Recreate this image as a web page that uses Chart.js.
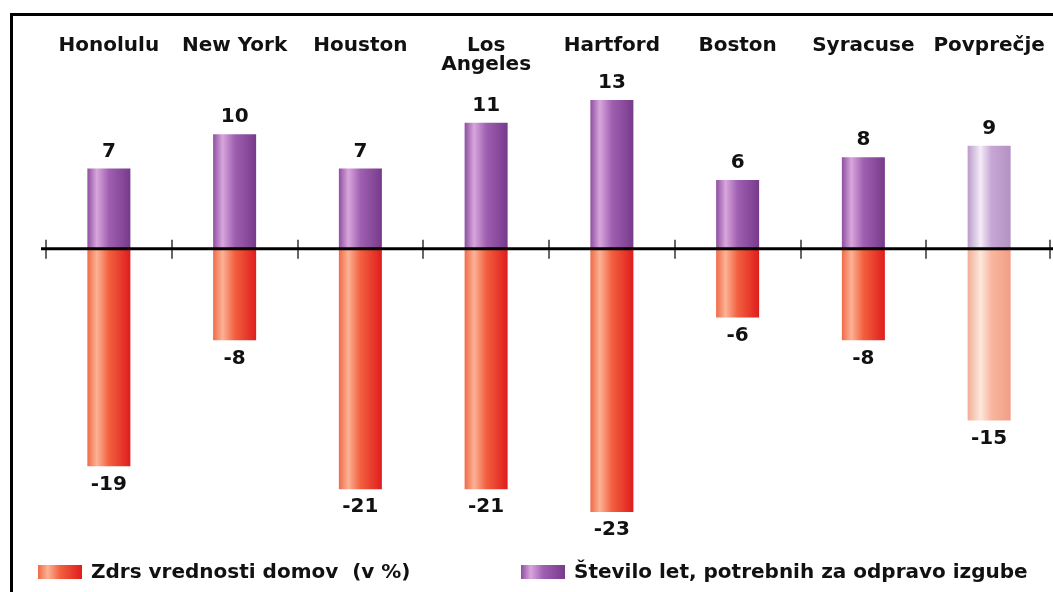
<!DOCTYPE html>
<html>
<head>
<meta charset="utf-8">
<script src="https://cdn.jsdelivr.net/npm/chart.js@4"></script>
<style>
  body { margin: 0; background: #fff; }
  #wrap { position: relative; width: 1053px; height: 592px; }
  #frame { position: absolute; left: 10px; top: 13px; right: 0; bottom: 0;
           border-top: 3px solid #000; border-left: 3px solid #000; pointer-events: none; }
</style>
</head>
<body>
<div id="wrap">
  <canvas id="chart"></canvas>
  <div id="frame"></div>
</div>
<script>
'use strict';

// data
let cities = ['Honolulu', 'New York', 'Houston', ['Los', 'Angeles'], 'Hartford', 'Boston', 'Syracuse', 'Povprečje'];
let valueDrop = [-19, -8, -21, -21, -23, -6, -8, -15];
let yearsToRecover = [7, 10, 7, 11, 13, 6, 8, 9];
let seriesNames = ['Zdrs vrednosti domov  (v %)', 'Število let, potrebnih za odpravo izgube'];

const barPct = 0.342;
const labelFont = '"DejaVu Sans", sans-serif';

const redStops = [[0, '#ef6a48'], [0.22, '#fcb295'], [0.5, '#f2603f'], [1, '#df1d1d']];
const purpleStops = [[0, '#8f4fa1'], [0.22, '#d8a6dc'], [0.5, '#a060b1'], [1, '#773a8b']];
const redPale = [[0, '#f2ad96'], [0.3, '#fde8dc'], [0.55, '#f8b7a0'], [1, '#f39d85']];
const purplePale = [[0, '#bb9bcb'], [0.3, '#f4ecf7'], [0.55, '#c7a7d5'], [1, '#b391c4']];

function makeGradient(c, x0, x1, stops) {
  let g = c.createLinearGradient(x0, 0, x1, 0);
  stops.forEach(s => g.addColorStop(s[0], s[1]));
  return g;
}

function barFill(stops, paleStops) {
  return function (ctx) {
    const chart = ctx.chart;
    if (!chart.chartArea || ctx.dataIndex === undefined || !chart.scales.x) return stops[1][1];
    const x = chart.scales.x;
    const cx = x.getPixelForValue(ctx.dataIndex);
    const w = (x.width / cities.length) * barPct;
    const s = ctx.dataIndex === cities.length - 1 ? paleStops : stops;
    return makeGradient(chart.ctx, cx - w / 2, cx + w / 2, s);
  };
}

// zero line, boundary ticks, value labels, legend
const extras = {
  id: 'extras',
  afterDatasetsDraw(chart) {
    const c = chart.ctx;
    const x = chart.scales.x;
    const y = chart.scales.y;
    const y0 = y.getPixelForValue(0);
    const step = x.width / cities.length;

    c.save();
    // boundary ticks
    c.strokeStyle = '#666';
    c.lineWidth = 2;
    for (let i = 0; i <= cities.length; i++) {
      let px = Math.round(x.left + i * step);
      if (i === cities.length) px -= 2;
      c.beginPath();
      c.moveTo(px, y0 - 9);
      c.lineTo(px, y0 + 10);
      c.stroke();
    }
    // zero line
    c.strokeStyle = '#000';
    c.lineWidth = 3;
    c.beginPath();
    c.moveTo(x.left - 5, y0);
    c.lineTo(chart.width, y0);
    c.stroke();

    // value labels
    c.fillStyle = '#111';
    c.font = 'bold 20px ' + labelFont;
    c.textAlign = 'center';
    c.textBaseline = 'middle';
    for (let i = 0; i < cities.length; i++) {
      const cx = x.getPixelForValue(i);
      c.fillText(String(yearsToRecover[i]), cx, y.getPixelForValue(yearsToRecover[i]) - 17);
      c.fillText(String(valueDrop[i]), cx, y.getPixelForValue(valueDrop[i]) + 18);
    }

    // legend
    const items = [
      { x: 38, text: seriesNames[0], stops: redStops },
      { x: 521, text: seriesNames[1], stops: purpleStops }
    ];
    const ly = 572;
    c.font = 'bold 20px ' + labelFont;
    c.textAlign = 'left';
    items.forEach(it => {
      c.fillStyle = makeGradient(c, it.x, it.x + 44, it.stops);
      c.fillRect(it.x, ly - 7, 44, 14);
      c.fillStyle = '#111';
      c.fillText(it.text, it.x + 53, ly + 1);
    });
    c.restore();
  }
};

const ctx = document.getElementById('chart');

let config = {
  type: 'bar',
  data: {
    labels: cities,
    datasets: [
      {
        label: seriesNames[0],
        data: valueDrop,
        backgroundColor: barFill(redStops, redPale),
        borderWidth: 0,
        barPercentage: barPct,
        categoryPercentage: 1
      },
      {
        label: seriesNames[1],
        data: yearsToRecover,
        backgroundColor: barFill(purpleStops, purplePale),
        borderWidth: 0,
        barPercentage: barPct,
        categoryPercentage: 1
      }
    ]
  },
  options: {
    responsive: true,
    maintainAspectRatio: false,
    animation: false,
    layout: { padding: { top: 33, left: 46, right: 1, bottom: 57 } },
    plugins: {
      legend: { display: false },
      tooltip: { enabled: false }
    },
    scales: {
      x: {
        position: 'top',
        stacked: true,
        offset: true,
        grid: { display: false, drawTicks: false },
        border: { display: false },
        ticks: {
          color: '#111',
          padding: 3,
          crossAlign: 'far',
          maxRotation: 0,
          autoSkip: false,
          font: { family: labelFont, weight: 'bold', size: 20, lineHeight: 0.95 }
        }
      },
      y: {
        display: false,
        stacked: true,
        min: -25,
        max: 15
      }
    }
  },
  plugins: [extras]
};

// eslint-disable-next-line no-undef
new Chart(ctx, config);
</script>
</body>
</html>
